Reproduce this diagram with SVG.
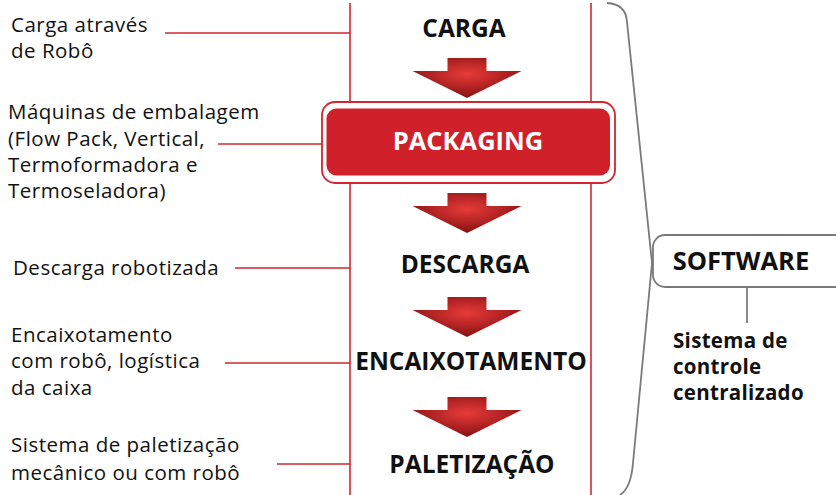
<svg xmlns="http://www.w3.org/2000/svg" width="836" height="495" viewBox="0 0 836 495">
<defs>
<style>
.lt{font-family:"Open Sans","Noto Sans",sans-serif;font-size:20.5px;letter-spacing:0.5px;fill:#111}
.bt{font-family:"Open Sans","Noto Sans",sans-serif;font-size:24.5px;font-weight:bold;fill:#111;text-anchor:middle}
.st{font-family:"Open Sans","Noto Sans",sans-serif;font-size:20.5px;letter-spacing:0.3px;font-weight:bold;fill:#111}
.red{stroke:#d22630;stroke-width:1.6;fill:none}
.gray{stroke:#7a7a7a;stroke-width:1.8;fill:none}
.arr{fill:url(#ag)}
</style>
<radialGradient id="ag" cx="0.5" cy="0.4" r="0.55">
<stop offset="0" stop-color="#e83a3a"/>
<stop offset="1" stop-color="#8e1414"/>
</radialGradient>
<path id="arrow" d="M-19.5,0 H19.5 V13 H54.5 L0,40 L-54.5,13 H-19.5 Z"/>
</defs>
<g id="connectors">
<line class="red" x1="350" y1="3" x2="350" y2="102"/>
<line class="red" x1="350" y1="184" x2="350" y2="495"/>
<line class="red" x1="591" y1="3" x2="591" y2="102"/>
<line class="red" x1="591" y1="184" x2="591" y2="495"/>
<line class="red" x1="165" y1="33" x2="350" y2="33"/>
<line class="red" x1="218" y1="144" x2="322" y2="144"/>
<line class="red" x1="235" y1="268" x2="350" y2="268"/>
<line class="red" x1="225" y1="363" x2="350" y2="363"/>
<line class="red" x1="277" y1="464" x2="350" y2="464"/>
<path class="gray" d="M607,3 Q626,4 627,22 L652,263 L633,463 Q631,488 620,495"/>
<line class="gray" x1="747" y1="287" x2="747" y2="323"/>
</g>
<g id="arrows">
<use href="#arrow" class="arr" x="467" y="58"/>
<use href="#arrow" class="arr" x="467" y="193"/>
<use href="#arrow" class="arr" x="467" y="297"/>
<use href="#arrow" class="arr" x="467" y="397"/>
</g>
<g id="carga"><text class="bt" x="464" y="37">CARGA</text></g>
<g id="packaging">
<rect x="322" y="102" width="293" height="81" rx="13" fill="#fff" stroke="#d22630" stroke-width="1.8"/>
<rect x="326.5" y="108.5" width="283.5" height="67" rx="10" fill="#d0202a"/>
<text class="bt" x="468" y="150" style="fill:#fff;font-size:25.5px">PACKAGING</text>
</g>
<g id="descarga"><text class="bt" x="465" y="273">DESCARGA</text></g>
<g id="encaixotamento"><text class="bt" x="471" y="370">ENCAIXOTAMENTO</text></g>
<g id="paletizacao"><text class="bt" x="472" y="473">PALETIZAÇÃO</text></g>
<g id="software">
<rect x="653" y="235" width="200" height="52" rx="12" fill="#fff" stroke="#7a7a7a" stroke-width="1.8"/>
<text class="bt" x="741" y="270" style="font-size:25.5px">SOFTWARE</text>
</g>
<g id="software-desc">
<text class="st" x="673" y="348">Sistema de</text>
<text class="st" x="673" y="374">controle</text>
<text class="st" x="673" y="400">centralizado</text>
</g>
<g id="note-carga">
<text class="lt" x="11" y="32">Carga através</text>
<text class="lt" x="11" y="58">de Robô</text>
</g>
<g id="note-packaging">
<text class="lt" x="8" y="119">Máquinas de embalagem</text>
<text class="lt" x="8" y="146">(Flow Pack, Vertical,</text>
<text class="lt" x="8" y="172">Termoformadora e</text>
<text class="lt" x="8" y="198">Termoseladora)</text>
</g>
<g id="note-descarga"><text class="lt" x="13" y="275">Descarga robotizada</text></g>
<g id="note-encaixotamento">
<text class="lt" x="11" y="342">Encaixotamento</text>
<text class="lt" x="11" y="368">com robô, logística</text>
<text class="lt" x="11" y="395">da caixa</text>
</g>
<g id="note-paletizacao">
<text class="lt" x="11" y="452">Sistema de paletização</text>
<text class="lt" x="11" y="480">mecânico ou com robô</text>
</g>
</svg>
